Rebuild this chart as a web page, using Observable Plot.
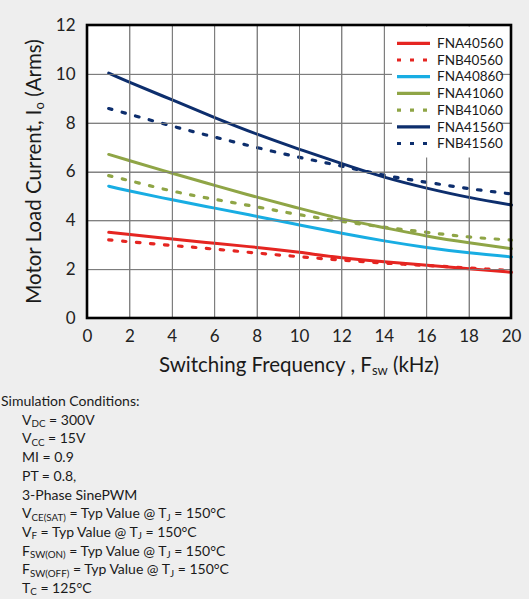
<!DOCTYPE html>
<html>
<head>
<meta charset="utf-8">
<script src="https://cdn.jsdelivr.net/npm/d3@7"></script>
<script src="https://cdn.jsdelivr.net/npm/@observablehq/plot@0.6"></script>
<style>
  html, body { margin: 0; padding: 0; background: #eeeeee; }
  body { width: 529px; height: 599px; overflow: hidden; font-family: Lato, "Open Sans", sans-serif; color: #1a1a1a; }
  #chart svg { display: block; background: #eeeeee; }
  #cap { font-size: 14px; line-height: 18.7px; padding-top: 4px; padding-left: 1px; }
  #cap .row { padding-left: 21px; white-space: nowrap; }
  #cap sub { font-size: 0.7em; vertical-align: baseline; position: relative; top: 0.25em; line-height: 0; }
</style>
</head>
<body>
<div id="chart"></div>
<div id="cap">
  <div>Simulation Conditions:</div>
  <div class="row">V<sub>DC</sub> = 300V</div>
  <div class="row">V<sub>CC</sub> = 15V</div>
  <div class="row">MI = 0.9</div>
  <div class="row">PT = 0.8,</div>
  <div class="row">3-Phase SinePWM</div>
  <div class="row">V<sub>CE(SAT)</sub> = Typ Value @ T<sub>J</sub> = 150°C</div>
  <div class="row">V<sub>F</sub> = Typ Value @ T<sub>J</sub> = 150°C</div>
  <div class="row">F<sub>SW(ON)</sub> = Typ Value @ T<sub>J</sub> = 150°C</div>
  <div class="row">F<sub>SW(OFF)</sub> = Typ Value @ T<sub>J</sub> = 150°C</div>
  <div class="row">T<sub>C</sub> = 125°C</div>
</div>
<script>
// ---- data ----
const freq = [1, 2, 4, 6, 8, 10, 12, 14, 16, 18, 20];
const FNA40560 = [3.53, 3.44, 3.26, 3.08, 2.91, 2.71, 2.49, 2.32, 2.18, 2.04, 1.89];
const FNB40560 = [3.22, 3.14, 2.99, 2.84, 2.68, 2.53, 2.39, 2.27, 2.17, 2.07, 1.96];
const FNA40860 = [5.42, 5.22, 4.86, 4.52, 4.18, 3.83, 3.49, 3.18, 2.91, 2.69, 2.52];
const FNA41060 = [6.72, 6.46, 5.95, 5.45, 4.97, 4.51, 4.08, 3.72, 3.38, 3.10, 2.86];
const FNB41060 = [5.85, 5.64, 5.22, 4.88, 4.57, 4.25, 3.98, 3.74, 3.53, 3.34, 3.21];
const FNA41560 = [10.05, 9.67, 8.95, 8.23, 7.55, 6.93, 6.34, 5.79, 5.34, 4.96, 4.65];
const FNB41560 = [8.60, 8.36, 7.88, 7.43, 7.00, 6.60, 6.24, 5.87, 5.58, 5.32, 5.10];

const seriesNames = ["FNA40560", "FNB40560", "FNA40860", "FNA41060", "FNB41060", "FNA41560", "FNB41560"];
const seriesValues = [FNA40560, FNB40560, FNA40860, FNA41060, FNB41060, FNA41560, FNB41560];
const seriesColors = ["#e52521", "#e52521", "#18ade3", "#8fa546", "#8fa546", "#0d2e6d", "#0d2e6d"];
const seriesDotted = [false, true, false, false, true, false, true];

const xTicks = [0, 2, 4, 6, 8, 10, 12, 14, 16, 18, 20];
const yTicks = [0, 2, 4, 6, 8, 10, 12];

// ---- layout ----
const W = 529, H = 388;
const mL = 87, mR = 18, mT = 25, mB = H - 318;
const plotRight = W - mR, plotBottom = H - mB;

const rows = seriesNames.map((name, i) => freq.map((f, j) => ({name, f, v: seriesValues[i][j]})));

const lineMarks = rows.map((data, i) => Plot.line(data, {
  x: "f", y: "v",
  stroke: seriesColors[i],
  strokeWidth: seriesDotted[i] ? 3.2 : 3,
  strokeDasharray: seriesDotted[i] ? "3.5,10.5" : null,
  curve: "natural"
}));

const chart = Plot.plot({
  width: W, height: H,
  marginLeft: mL, marginRight: mR, marginTop: mT, marginBottom: mB,
  style: {fontFamily: "Lato, 'Open Sans', sans-serif", fontSize: "17px", color: "#222", background: "#eeeeee"},
  x: {domain: [0, 20], ticks: xTicks, tickSize: 0, tickPadding: 11, label: null},
  y: {domain: [0, 12], ticks: yTicks, tickSize: 0, tickPadding: 12, label: null},
  marks: [
    Plot.frame({fill: "white", stroke: null}),
    Plot.ruleX(xTicks, {stroke: "#7a7a7a", strokeWidth: 1}),
    Plot.ruleY(yTicks, {stroke: "#7a7a7a", strokeWidth: 1}),
    ...lineMarks
  ]
});
document.getElementById("chart").appendChild(chart);

// ---- grid (through Plot's scales), axis titles, legend, border ----
const NS = "http://www.w3.org/2000/svg";
const fnt = "Lato, 'Open Sans', sans-serif";
function el(tag, attrs, parent) {
  const e = document.createElementNS(NS, tag);
  for (const k in attrs) if (attrs[k] != null) e.setAttribute(k, attrs[k]);
  (parent || chart).appendChild(e);
  return e;
}
function span(parent, attrs, txt) { const t = el("tspan", attrs, parent); t.textContent = txt; return t; }

const sx = chart.scale("x"), sy = chart.scale("y");
const grid = el("g", {stroke: "#7a7a7a", "stroke-width": 1, "stroke-opacity": 0.85});
xTicks.forEach(v => { const px = Math.round(sx.apply(v)) + 0.5; el("line", {x1: px, x2: px, y1: mT, y2: plotBottom}, grid); });
yTicks.forEach(v => { const py = Math.round(sy.apply(v)) + 0.5; el("line", {x1: mL, x2: plotRight, y1: py, y2: py}, grid); });

const xt = el("text", {x: (mL + plotRight) / 2, y: plotBottom + 54, "text-anchor": "middle", "font-size": 20.5, "font-family": fnt, fill: "#1a1a1a"});
span(xt, {}, "Switching Frequency , F");
span(xt, {"font-size": 13, dy: 3}, "sw");
span(xt, {dy: -3}, " (kHz)");

const yt = el("text", {transform: `translate(41,${(mT + plotBottom) / 2}) rotate(-90)`, "text-anchor": "middle", "font-size": 20.5, "font-family": fnt, fill: "#1a1a1a"});
span(yt, {}, "Motor Load Current, I");
span(yt, {"font-size": 13, dy: 3}, "o");
span(yt, {dy: -3}, " (Arms)");

el("rect", {x: plotRight - 119, y: mT + 1.5, width: 108, height: 131, fill: "#ffffff", stroke: "none"});
seriesNames.forEach((name, i) => {
  const y = mT + 18.3 + i * 16.7;
  el("line", {x1: plotRight - 114, x2: plotRight - 81, y1: y, y2: y, stroke: seriesColors[i], "stroke-width": 3.2,
    "stroke-dasharray": seriesDotted[i] ? "4,9" : null});
  const t = el("text", {x: plotRight - 74, y: y, dy: "0.35em", "text-anchor": "start", "font-size": 13.5, "font-family": fnt, fill: "#1a1a1a"});
  t.textContent = name;
});
el("rect", {x: mL, y: mT, width: plotRight - mL, height: plotBottom - mT, fill: "none", stroke: "#000000", "stroke-width": 2.6});
</script>
</body>
</html>
